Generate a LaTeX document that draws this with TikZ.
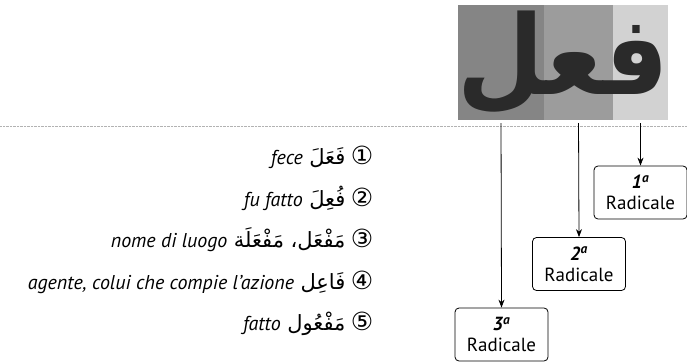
\documentclass[tikz,border=0pt]{standalone}
\usepackage{fontspec}
\setmainfont{PT Sans}
\newfontfamily\arabicfont[Script=Arabic]{DejaVu Sans}
\newfontfamily\symfont{DejaVu Sans}
\TeXXeTstate=1
\usepackage{xcolor}
\definecolor{radark}{HTML}{858585}
\definecolor{ramid}{HTML}{9C9C9C}
\definecolor{ralight}{HTML}{D2D2D2}
\definecolor{rainkk}{HTML}{2A2A2A}
\usepackage{tikz}
\usetikzlibrary{arrows.meta,positioning}

\tikzset{
  panel/.style={inner sep=0pt,outer sep=0pt,minimum height=115pt},
  rootbox/.style={draw,rounded corners=4pt,line width=0.8pt,align=center,
    minimum width=93pt,minimum height=53pt,inner sep=1pt,font=\fontsize{19}{21}\selectfont},
  rootarrow/.style={-{Stealth[length=8pt,width=6pt]},line width=0.8pt,shorten <=3pt},
  sepline/.style={gray!60,line width=0.4pt,densely dotted},
  numlbl/.style={inner sep=0pt,font=\symfont\fontsize{25}{25}\selectfont},
  arlbl/.style={inner sep=1pt,font=\arabicfont\fontsize{21}{24}\selectfont},
  itlbl/.style={inner sep=1pt,font=\itshape\fontsize{20}{24}\selectfont}
}

\begin{document}
\begin{tikzpicture}[x=1pt,y=-1pt,node distance=4pt]
\useasboundingbox (0,0) rectangle (687,361);

% the three letters of the root
\node[panel,fill=radark,minimum width=86pt] (pan3) at (501,62.5) {};
\node[panel,fill=ramid,minimum width=69pt] (pan2) at (578.5,62.5) {};
\node[panel,fill=ralight,minimum width=55pt] (pan1) at (640.5,62.5) {};
\node[inner sep=0pt,text=rainkk,yscale=1.1,font=\arabicfont\bfseries\fontsize{100}{100}\selectfont] (rootword) at (563,63) {\beginR فعل\endR};

\coordinate (sepL) at (0,126);
\coordinate (sepR) at (687,126);
\draw[sepline] (sepL) -- (sepR);

% the radicals
\node[rootbox] (rad1) at (640.5,192.5) {{\bfseries\itshape 1\textsuperscript{a}}\\Radicale};
\node[rootbox] (rad2) at (579,264) {{\bfseries\itshape 2\textsuperscript{a}}\\Radicale};
\node[rootbox] (rad3) at (501.5,334.5) {{\bfseries\itshape 3\textsuperscript{a}}\\Radicale};

\draw[rootarrow] (pan1.south) -- (rad1.north);
\draw[rootarrow] (pan2.south) -- (rad2.north);
\draw[rootarrow] (pan3.south) -- (rad3.north);

% derived forms
\node[numlbl] (num1) at (362,155) {①};
\node[arlbl,base left=of num1] (ar1) {\beginR فَعَلَ\endR};
\node[itlbl,base left=of ar1] (it1) {fece};

\node[numlbl] (num2) at (362,197) {②};
\node[arlbl,base left=of num2] (ar2) {\beginR فُعِلَ\endR};
\node[itlbl,base left=of ar2] (it2) {fu fatto};

\node[numlbl] (num3) at (362,238) {③};
\node[arlbl,base left=of num3] (ar3) {\beginR مَفْعَل، مَفْعَلَة\endR};
\node[itlbl,base left=of ar3] (it3) {nome di luogo};

\node[numlbl] (num4) at (362,280) {④};
\node[arlbl,base left=of num4] (ar4) {\beginR فَاعِل\endR};
\node[itlbl,base left=of ar4] (it4) {agente, colui che compie l’azione};

\node[numlbl] (num5) at (362,321) {⑤};
\node[arlbl,base left=of num5] (ar5) {\beginR مَفْعُول\endR};
\node[itlbl,base left=of ar5] (it5) {fatto};
\end{tikzpicture}
\end{document}
